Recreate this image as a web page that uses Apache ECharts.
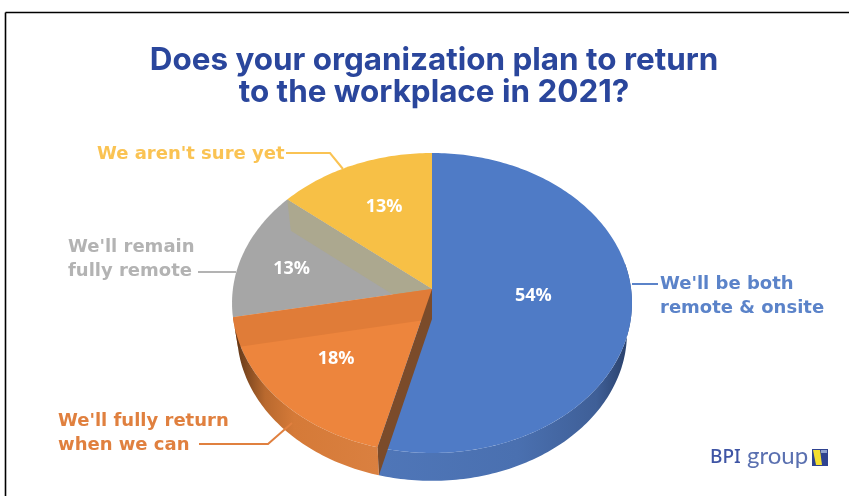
<!DOCTYPE html>
<html><head><meta charset="utf-8">
<style>html,body{margin:0;padding:0;background:#fff}#c{width:849px;height:496px}</style>
<script src="https://cdn.jsdelivr.net/npm/echarts@6/dist/echarts.min.js"></script>
</head><body><div id="c"></div>
<script>
// ---- data ----
const categories = ["We'll be both\nremote & onsite", "We'll fully return\nwhen we can", "We'll remain\nfully remote", "We aren't sure yet"];
const percents = [54, 18, 13, 13];
// printed percents add up to 98; the two grey/yellow wedges are drawn carrying the rounding remainder
const roundingRemainder = [0, 0, 1, 1];
const titleLines = ['Does your organization plan to return', 'to the workplace in 2021?'];

// ---- styling & layout ----
const colors = ['#4f7bc6', '#ed853d', '#a6a6a6', '#f7c046'];
const labelColors = ['#5b83c9', '#e0803f', '#b3b3b3', '#fac353'];
const PIE = {cx: 432, cy: 289, ax: 199.1, by: 148.7, k: 0.0933, depth: 30, sx: 0.975, sy: 0.987};
const valueLabelFrac = [0.51, 0.64, 0.73, 0.62];
const valueLabelNudge = [[0, -3], [1, 2], [-2, 6], [2, -3]];
const callouts = [
  {x: 660, y: 296, line: [[632, 284], [658, 284]]},
  {x: 58, y: 433, line: [[199, 444], [268, 444], [292, 423]]},
  {x: 68, y: 259, line: [[198, 272], [236, 272]]},
  {x: 97, y: 154, line: [[286, 153], [330, 153], [343, 169]]}
];

const rad = d => d * Math.PI / 180;
function topPt(deg, f) {
  f = f === undefined ? 1 : f;
  const X = Math.sin(rad(deg)) * f, Y = -Math.cos(rad(deg)) * f, w = 1 - PIE.k * Y;
  return [PIE.cx + PIE.ax * X / w, PIE.cy + PIE.by * Y / w];
}
function botPt(deg) {
  const p = topPt(deg);
  return [PIE.cx + PIE.sx * (p[0] - PIE.cx), PIE.cy + PIE.depth + PIE.sy * (p[1] - PIE.cy)];
}
function arc(fn, a, b) {
  const n = Math.max(2, Math.ceil(Math.abs(b - a))), pts = [];
  for (let i = 0; i <= n; i++) pts.push(fn(a + (b - a) * i / n));
  return pts;
}
const apex = [PIE.cx, PIE.cy], sunk = [PIE.cx, PIE.cy + PIE.depth];

let acc = 0;
const sliceData = percents.map((v, i) => {
  const sweep = (v + roundingRemainder[i]) * 3.6;
  const row = [acc, acc + sweep, v, i];
  acc += sweep;
  return row;
});

const poly = (points, fill, z2) => ({type: 'polygon', silent: true, z2, shape: {points},
  style: {fill, stroke: null}});
const grad = (stops) => new echarts.graphic.LinearGradient(0, 0, 1, 0,
  stops.map(s => ({offset: s[0], color: s[1]})));

function renderSlice(params, api) {
  const a = api.value(0), b = api.value(1), v = api.value(2), i = api.value(3);
  const kids = [];
  const face = [apex].concat(arc(topPt, a, b));
  const zTop = [2, 6, 3, 4][i];
  kids.push(poly(face, colors[i], zTop));

  if (i === 0) {
    const s = 80;
    kids.splice(0, 0, poly(arc(topPt, s, b).concat(arc(botPt, b, s)),
      grad([[0, '#4f76b8'], [0.55, '#4a70b0'], [0.86, '#3f5f97'], [0.97, '#2c4470'], [1, '#3d5d94']]), 1));
    kids.push(poly([apex, topPt(b), botPt(b), sunk], '#7b4b2a', 8));
  }
  if (i === 1) {
    kids.push(poly(arc(topPt, a, b).concat(arc(botPt, b, a)),
      grad([[0, '#4a2a12'], [0.05, '#6e3f1c'], [0.22, '#b9692e'], [0.42, '#d57a38'], [1, '#da8040']]), 9));
    kids.push(poly([topPt(b), botPt(b), sunk, apex], '#e07c38', 7));
  }
  if (i === 3) {
    kids.push(poly([topPt(a), botPt(a), sunk, apex], '#aca88f', 5));
  }

  const lp = topPt((a + b) / 2, valueLabelFrac[i]);
  const nudge = valueLabelNudge[i];
  kids.push({type: 'text', silent: true, z2: 20, style: {x: lp[0] + nudge[0], y: lp[1] + nudge[1], text: v + '%',
    fill: '#fff', font: '700 18px "Open Sans"', align: 'center', verticalAlign: 'middle'}});

  const c = callouts[i];
  kids.push({type: 'polyline', silent: true, z2: 11, shape: {points: c.line},
    style: {stroke: labelColors[i], lineWidth: 2, fill: null}});
  kids.push({type: 'text', silent: true, z2: 20, style: {x: c.x, y: c.y, text: categories[i],
    fill: labelColors[i], font: '700 18px "DejaVu Sans"', lineHeight: 24, align: 'left', verticalAlign: 'middle'}});
  return {type: 'group', children: kids};
}

const chart = echarts.init(document.getElementById('c'), null, {renderer: 'canvas'});
chart.setOption({
  animation: false,
  backgroundColor: '#fff',
  title: {
    text: titleLines.join('\n'), left: 429, top: 40, textAlign: 'center',
    textStyle: {color: '#2a469c', fontFamily: 'Inter', fontWeight: 700, fontSize: 31.4, lineHeight: 32}
  },
  series: [{
    type: 'custom', coordinateSystem: 'none', silent: true,
    data: sliceData, renderItem: renderSlice, clip: false
  }],
  graphic: [
    {type: 'line', shape: {x1: 5.5, y1: 12.5, x2: 849, y2: 12.5}, style: {stroke: '#000', lineWidth: 1.6}},
    {type: 'line', shape: {x1: 5.5, y1: 12.5, x2: 5.5, y2: 496}, style: {stroke: '#000', lineWidth: 1.6}},
    {type: 'text', style: {x: 710, y: 458, text: 'BPI', fill: '#3f55a5', font: '500 19px "Noto Sans"', verticalAlign: 'middle'}},
    {type: 'text', style: {x: 747, y: 456, text: 'group', fill: '#5a70b0', font: '400 24px "Lato"', verticalAlign: 'middle'}},
    {type: 'rect', shape: {x: 812, y: 449, width: 16, height: 17}, style: {fill: '#2f4390'}},
    {type: 'polygon', shape: {points: [[813, 450], [820, 450], [822, 465], [816, 465]]}, style: {fill: '#f4df2f'}},
    {type: 'rect', shape: {x: 821, y: 450, width: 6, height: 3}, style: {fill: '#8fa2d0'}}
  ]
});
</script></body></html>
